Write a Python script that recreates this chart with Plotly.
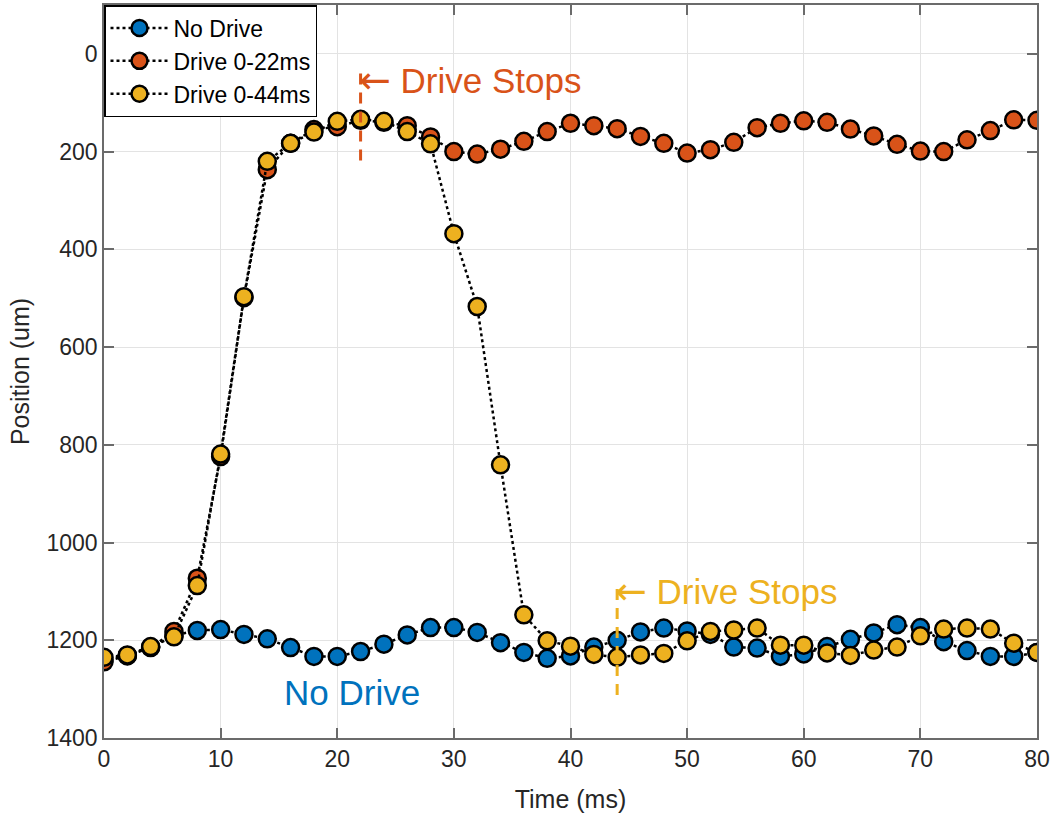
import plotly.graph_objects as go

time_ms = [0, 2, 4, 6, 8, 10, 12, 14, 16, 18, 20, 22, 24, 26, 28, 30, 32, 34, 36, 38, 40,
           42, 44, 46, 48, 50, 52, 54, 56, 58, 60, 62, 64, 66, 68, 70, 72, 74, 76, 78, 80]

no_drive = [1240, 1231, 1214, 1190, 1180, 1178, 1188, 1197, 1215, 1233, 1233, 1223, 1208, 1189,
            1174, 1174, 1184, 1205, 1225, 1237, 1232, 1214, 1200, 1183, 1175, 1181, 1188, 1214,
            1216, 1233, 1228, 1213, 1198, 1185, 1168, 1174, 1203, 1221, 1233, 1233, 1225]

drive_0_22 = [1244, 1232, 1215, 1182, 1073, 824, 499, 237, 183, 155, 149, 136, 140, 147, 170,
              200, 205, 195, 179, 159, 142, 147, 153, 169, 183, 203, 196, 181, 151, 142, 137,
              140, 154, 168, 185, 199, 200, 176, 157, 135, 136]

drive_0_44 = [1235, 1230, 1213, 1193, 1088, 819, 497, 220, 183, 160, 138, 134, 138, 159, 184,
              368, 517, 841, 1148, 1201, 1212, 1229, 1235, 1230, 1227, 1201, 1182, 1179, 1175,
              1210, 1210, 1226, 1231, 1220, 1214, 1191, 1177, 1175, 1177, 1206, 1225]

series_names = ["No Drive", "Drive 0-22ms", "Drive 0-44ms"]
series_colors = ["#0072BD", "#D95319", "#EDB120"]
stop_times = [22, 44]
stop_text_y = [53, 1100]
stop_line_y = [(40, 220), (1095, 1320)]
label_no_drive = (15.3, 1306)

x_ticks = [0, 10, 20, 30, 40, 50, 60, 70, 80]
y_ticks = [0, 200, 400, 600, 800, 1000, 1200, 1400]

FONT = "Liberation Sans, Arial, Helvetica, sans-serif"

fig = go.Figure()
for name, vals, col in zip(series_names, [no_drive, drive_0_22, drive_0_44], series_colors):
    fig.add_trace(go.Scatter(
        x=time_ms, y=vals, name=name, mode="lines+markers",
        line=dict(color="black", width=2.5, dash="dot"),
        marker=dict(size=17, color=col, line=dict(color="black", width=2.5)),
    ))

# Drive stop markers
for t, ty, (ly0, ly1), col in zip(stop_times, stop_text_y, stop_line_y, series_colors[1:]):
    fig.add_shape(type="line", xref="x", yref="y", x0=t, x1=t, y0=ly0, y1=ly1,
                  line=dict(color=col, width=3, dash="11px,8px"))
    fig.add_annotation(x=t, y=ty, xref="x", yref="y",
                       text="<span style='font-family:DejaVu Sans;font-size:38px'>\u2190</span> Drive Stops",
                       showarrow=False, xanchor="left", yanchor="middle", xshift=-4,
                       font=dict(family=FONT, size=35, color=col))

fig.add_annotation(x=label_no_drive[0], y=label_no_drive[1], xref="x", yref="y",
                   text="No Drive", showarrow=False, xanchor="left", yanchor="middle",
                   font=dict(family=FONT, size=35, color=series_colors[0]))

axis_common = dict(
    showline=True, linecolor="#6b6b6b", linewidth=1.5, mirror="ticks",
    ticks="inside", ticklen=10, tickwidth=1.5, tickcolor="#6b6b6b",
    showgrid=True, gridcolor="#e3e3e3", gridwidth=1, zeroline=False,
    automargin=False,
    tickfont=dict(family=FONT, size=23, color="#262626"),
)

fig.update_layout(
    width=1050, height=818,
    margin=dict(l=104, r=13, t=5, b=80, autoexpand=False),
    paper_bgcolor="white", plot_bgcolor="white",
    font=dict(family=FONT, color="#262626"),
    showlegend=True,
    legend=dict(x=0, y=1, xanchor="left", yanchor="top",
                bgcolor="white", bordercolor="black", borderwidth=1.5,
                font=dict(family=FONT, size=23, color="black"),
                itemwidth=58, tracegroupgap=0),
    xaxis=dict(range=[0, 80], tickvals=x_ticks,
               title=dict(text="Time (ms)", font=dict(family=FONT, size=25, color="#262626"), standoff=19),
               **axis_common),
    yaxis=dict(range=[1400, -100], tickvals=y_ticks,
               title=dict(text="Position (um)", font=dict(family=FONT, size=25, color="#262626"), standoff=10),
               **axis_common),
)

fig.write_html("out.html", config={"displayModeBar": False},
               post_script="document.body.style.margin='0px';")
